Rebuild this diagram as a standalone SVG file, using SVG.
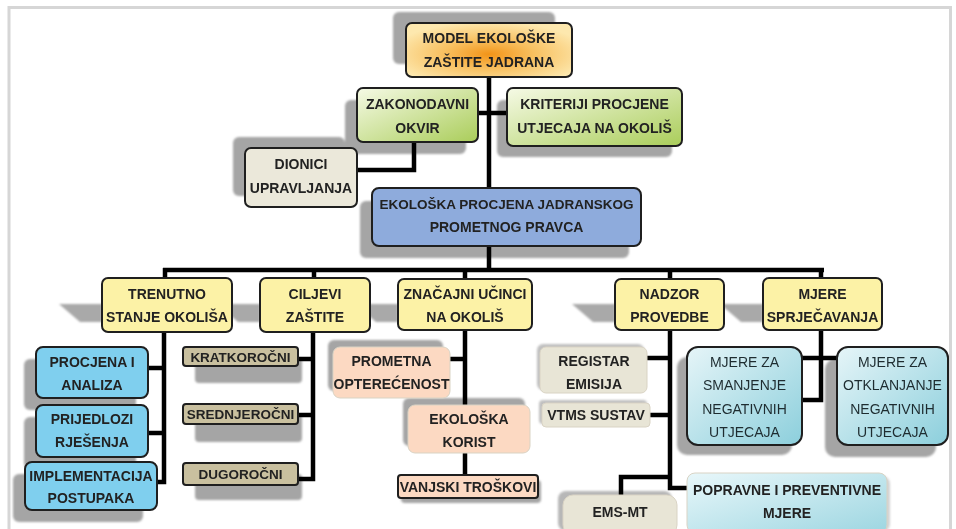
<svg xmlns="http://www.w3.org/2000/svg" width="956" height="529" viewBox="0 0 956 529">
<style>
text{font-family:"Liberation Sans",Arial,sans-serif;font-weight:bold;font-size:14px;fill:#222;text-anchor:middle}
.thin{font-weight:normal;fill:#1e2c30}
.sm{font-size:13.5px}
.b{stroke:#1f1f1f;stroke-width:2}
.lb{stroke:#d9d3c4;stroke-width:1}
.sh{fill:#a5a5a5}
.ps{fill:#a9a9a9}
.c{fill:none;stroke:#000;stroke-width:4.5;stroke-linejoin:miter}
</style>
<defs>
<radialGradient id="gRoot" cx="50%" cy="58%" r="60%">
<stop offset="0" stop-color="#f29418"/>
<stop offset="0.45" stop-color="#f8c060"/>
<stop offset="1" stop-color="#fde8ae"/>
</radialGradient>
<linearGradient id="gGreen" x1="0" y1="0" x2="1" y2="1">
<stop offset="0" stop-color="#f6fae6"/>
<stop offset="1" stop-color="#aacd5a"/>
</linearGradient>
<linearGradient id="gTeal" x1="0" y1="0" x2="1" y2="1">
<stop offset="0" stop-color="#e6f5f8"/>
<stop offset="1" stop-color="#8ccfdc"/>
</linearGradient>
<linearGradient id="gPop" x1="0" y1="0" x2="1" y2="1">
<stop offset="0" stop-color="#e8f7fa"/>
<stop offset="1" stop-color="#9dd6e1"/>
</linearGradient>
<filter id="blur" x="-10%" y="-10%" width="120%" height="120%"><feGaussianBlur stdDeviation="1.3"/></filter>
</defs>
<rect x="0" y="0" width="956" height="529" fill="#fff"/>
<rect x="9" y="7.5" width="941.5" height="540" fill="none" stroke="#d6d6d6" stroke-width="3"/>

<g id="shadows" filter="url(#blur)">
<rect class="sh" x="393" y="12" width="162" height="52" rx="6"/>
<rect class="sh" x="345" y="100" width="121" height="54" rx="6"/>
<rect class="sh" x="497" y="100" width="175" height="57" rx="6"/>
<rect class="sh" x="233" y="137" width="112" height="59" rx="6"/>
<rect class="sh" x="360" y="201" width="269" height="57" rx="6"/>
<polygon class="ps" points="59,304 102,304 102,322 80,322"/>
<polygon class="ps" points="217,304 260,304 260,322 238,322"/>
<polygon class="ps" points="355,304 398,304 398,322 376,322"/>
<polygon class="ps" points="572,304 615,304 615,322 593,322"/>
<polygon class="ps" points="720,304 763,304 763,322 741,322"/>
<rect class="sh" x="24" y="359" width="112" height="51" rx="6"/>
<rect class="sh" x="24" y="417" width="112" height="52" rx="6"/>
<rect class="sh" x="13" y="474" width="130" height="48" rx="6"/>
<rect class="sh" x="195" y="358" width="107" height="25" rx="4"/>
<rect class="sh" x="195" y="415" width="107" height="27" rx="4"/>
<rect class="sh" x="195" y="474" width="107" height="26" rx="4"/>
<rect class="sh" x="328" y="340" width="115" height="51" rx="6"/>
<rect class="sh" x="403" y="398" width="122" height="48" rx="6"/>
<rect class="sh" x="401" y="480" width="140" height="23" rx="4"/>
<rect class="sh" x="537" y="344" width="107" height="46" rx="6" opacity="0.7"/>
<rect class="sh" x="539" y="400" width="108" height="24" rx="4" opacity="0.7"/>
<rect class="sh" x="558" y="491" width="114" height="40" rx="8" opacity="0.8"/>
<rect class="sh" x="677" y="357" width="115" height="98" rx="10"/>
<rect class="sh" x="825" y="359" width="111" height="98" rx="10"/>
<rect class="sh" x="690" y="476" width="200" height="56" rx="8" opacity="0.5"/>
</g>

<g id="connectors">
<path class="c" d="M489,77 V270"/>
<path class="c" d="M478,113 H507"/>
<path class="c" d="M414,142 V170 H357"/>
<path class="c" d="M163,270 H824"/>
<path class="c" d="M165,268 V278"/>
<path class="c" d="M314,268 V278"/>
<path class="c" d="M465,268 V279"/>
<path class="c" d="M670,268 V279"/>
<path class="c" d="M821,268 V278"/>
<path class="c" d="M164,332 V482 H157"/>
<path class="c" d="M164,368 H148"/>
<path class="c" d="M164,433 H148"/>
<path class="c" d="M313,332 V479 H298"/>
<path class="c" d="M313,359 H298"/>
<path class="c" d="M313,415 H298"/>
<path class="c" d="M465,330 V475"/>
<path class="c" d="M465,359 H450"/>
<path class="c" d="M670,330 V488 H687"/>
<path class="c" d="M670,358 H647"/>
<path class="c" d="M670,415 H650"/>
<path class="c" d="M670,477 H621 V495"/>
<path class="c" d="M821,330 V400 H802"/>
<path class="c" d="M802,358 H837"/>
</g>

<g id="n-root">
<rect class="b" x="406" y="23" width="166" height="54" rx="6" fill="url(#gRoot)"/>
<text x="489" y="43">MODEL EKOLOŠKE</text>
<text x="489" y="67">ZAŠTITE JADRANA</text>
</g>
<g id="n-zakonodavni">
<rect class="b" x="357" y="88" width="121" height="54" rx="6" fill="url(#gGreen)"/>
<text x="417.5" y="109">ZAKONODAVNI</text>
<text x="417.5" y="133">OKVIR</text>
</g>
<g id="n-kriteriji">
<rect class="b" x="507" y="88" width="175" height="58" rx="6" fill="url(#gGreen)"/>
<text x="594.5" y="109">KRITERIJI PROCJENE</text>
<text x="594.5" y="133">UTJECAJA NA OKOLIŠ</text>
</g>
<g id="n-dionici">
<rect class="b" x="245" y="148" width="112" height="59" rx="6" fill="#ebe8da"/>
<text x="301" y="169">DIONICI</text>
<text x="301" y="193">UPRAVLJANJA</text>
</g>
<g id="n-ekoloska-procjena">
<rect class="b" x="372" y="188" width="269" height="58" rx="7" fill="#8eabdc"/>
<text class="sm" x="506.5" y="209">EKOLOŠKA PROCJENA JADRANSKOG</text>
<text x="506.5" y="232">PROMETNOG PRAVCA</text>
</g>

<g id="n-trenutno">
<rect class="b" x="102" y="278" width="130" height="54" rx="6" fill="#fcf2a6"/>
<text x="167" y="299">TRENUTNO</text>
<text x="167" y="322">STANJE OKOLIŠA</text>
</g>
<g id="n-ciljevi">
<rect class="b" x="260" y="278" width="110" height="54" rx="6" fill="#fcf2a6"/>
<text x="315" y="299">CILJEVI</text>
<text x="315" y="322">ZAŠTITE</text>
</g>
<g id="n-znacajni">
<rect class="b" x="398" y="279" width="134" height="51" rx="6" fill="#fcf2a6"/>
<text x="465" y="299">ZNAČAJNI UČINCI</text>
<text x="465" y="322">NA OKOLIŠ</text>
</g>
<g id="n-nadzor">
<rect class="b" x="615" y="279" width="109" height="51" rx="6" fill="#fcf2a6"/>
<text x="669.5" y="299">NADZOR</text>
<text x="669.5" y="322">PROVEDBE</text>
</g>
<g id="n-mjere">
<rect class="b" x="763" y="278" width="119" height="52" rx="6" fill="#fcf2a6"/>
<text x="822.5" y="299">MJERE</text>
<text x="822.5" y="322">SPRJEČAVANJA</text>
</g>

<g id="n-procjena">
<rect class="b" x="36" y="347" width="112" height="51" rx="7" fill="#7fcfee"/>
<text x="92" y="367">PROCJENA I</text>
<text x="92" y="390">ANALIZA</text>
</g>
<g id="n-prijedlozi">
<rect class="b" x="36" y="405" width="112" height="52" rx="7" fill="#7fcfee"/>
<text x="92" y="424">PRIJEDLOZI</text>
<text x="92" y="447">RJEŠENJA</text>
</g>
<g id="n-implementacija">
<rect class="b" x="25" y="462" width="132" height="48" rx="7" fill="#7fcfee"/>
<text x="91" y="481">IMPLEMENTACIJA</text>
<text x="91" y="503">POSTUPAKA</text>
</g>

<g id="n-kratkorocni">
<rect class="b" x="183" y="347" width="115" height="19" rx="3" fill="#c9c09f"/>
<text class="sm" x="240.5" y="362">KRATKOROČNI</text>
</g>
<g id="n-srednjerocni">
<rect class="b" x="183" y="404" width="115" height="20" rx="3" fill="#c9c09f"/>
<text class="sm" x="240.5" y="419">SREDNJEROČNI</text>
</g>
<g id="n-dugorocni">
<rect class="b" x="183" y="463" width="115" height="22" rx="3" fill="#c9c09f"/>
<text class="sm" x="240.5" y="479">DUGOROČNI</text>
</g>

<g id="n-prometna">
<rect class="lb" x="333" y="347" width="117" height="51" rx="7" fill="#fcd9c2"/>
<text x="391.5" y="366">PROMETNA</text>
<text x="391.5" y="389">OPTEREĆENOST</text>
</g>
<g id="n-korist">
<rect class="lb" x="408" y="405" width="122" height="48" rx="7" fill="#fcd9c2"/>
<text x="469" y="424">EKOLOŠKA</text>
<text x="469" y="447">KORIST</text>
</g>
<g id="n-vanjski">
<rect class="b" x="398" y="475" width="140" height="23" rx="3" fill="#fcd9c2"/>
<text x="468" y="492">VANJSKI TROŠKOVI</text>
</g>

<g id="n-registar">
<rect class="lb" x="540" y="347" width="107" height="46" rx="6" fill="#e8e5d6"/>
<text x="594" y="366">REGISTAR</text>
<text x="594" y="389">EMISIJA</text>
</g>
<g id="n-vtms">
<rect class="lb" x="542" y="403" width="108" height="24" rx="4" fill="#e8e5d6"/>
<text x="596" y="420">VTMS SUSTAV</text>
</g>
<g id="n-emsmt">
<rect class="lb" x="563" y="495" width="114" height="40" rx="10" fill="#e8e5d6"/>
<text x="620" y="517">EMS-MT</text>
</g>
<g id="n-popravne">
<rect class="lb" x="687" y="473" width="200" height="60" rx="8" fill="url(#gPop)"/>
<text x="787" y="495">POPRAVNE I PREVENTIVNE</text>
<text x="787" y="518">MJERE</text>
</g>
<g id="n-smanjenje">
<rect class="b" x="687" y="347" width="115" height="98" rx="11" fill="url(#gTeal)"/>
<text class="thin" x="744.5" y="367">MJERE ZA</text>
<text class="thin" x="744.5" y="390">SMANJENJE</text>
<text class="thin" x="744.5" y="414">NEGATIVNIH</text>
<text class="thin" x="744.5" y="437">UTJECAJA</text>
</g>
<g id="n-otklanjanje">
<rect class="b" x="837" y="347" width="111" height="98" rx="11" fill="url(#gTeal)"/>
<text class="thin" x="892.5" y="367">MJERE ZA</text>
<text class="thin" x="892.5" y="390">OTKLANJANJE</text>
<text class="thin" x="892.5" y="414">NEGATIVNIH</text>
<text class="thin" x="892.5" y="437">UTJECAJA</text>
</g>
</svg>
